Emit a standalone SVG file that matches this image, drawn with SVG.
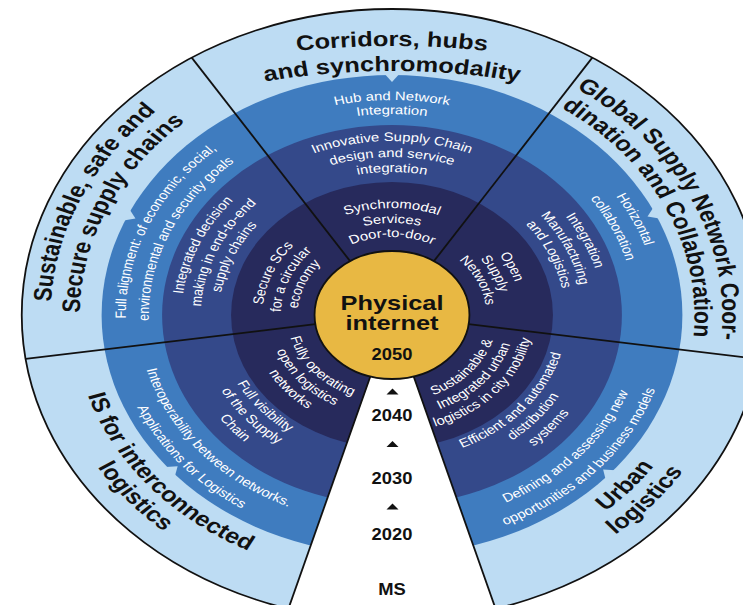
<svg xmlns="http://www.w3.org/2000/svg" width="743" height="605" viewBox="0 0 743 605">
<style>
.ot{font-family:"Liberation Sans",Arial,sans-serif;font-weight:bold;font-size:21px;fill:#111;text-anchor:middle}
.wt{font-family:"Liberation Sans",Arial,sans-serif;font-size:12.3px;fill:#fff;text-anchor:middle}
.yr{font-family:"Liberation Sans",Arial,sans-serif;font-weight:bold;font-size:17px;fill:#111;text-anchor:middle}
.pi{font-family:"Liberation Sans",Arial,sans-serif;font-weight:bold;font-size:21px;fill:#111;text-anchor:middle}
.dv{stroke:#111;stroke-width:1.8;fill:none;vector-effect:non-scaling-stroke}
.nt{fill:#bddcf3}
</style>
<defs>
<path id="c1" d="M-168.23,-246.85 A650,650 0 0 1 168.23,-246.85"/>
<path id="c2" d="M-223.99,-194.34 A530,530 0 0 1 223.99,-194.34"/>
<path id="t282" d="M-277.72,-48.97 A282,282 0 0 1 277.72,-48.97"/>
<path id="t258" d="M-254.08,-44.80 A258,258 0 0 1 254.08,-44.80"/>
<path id="t273" d="M-268.85,-47.41 A273,273 0 0 1 268.85,-47.41"/>
<path id="t250" d="M-246.20,-43.41 A250,250 0 0 1 246.20,-43.41"/>
<path id="t220" d="M-216.66,-38.20 A220,220 0 0 1 216.66,-38.20"/>
<path id="t215" d="M-211.73,-37.33 A215,215 0 0 1 211.73,-37.33"/>
<path id="t201" d="M-197.95,-34.90 A201,201 0 0 1 197.95,-34.90"/>
<path id="t174" d="M-171.36,-30.22 A174,174 0 0 1 171.36,-30.22"/>
<path id="t158" d="M-155.60,-27.44 A158,158 0 0 1 155.60,-27.44"/>
<path id="t143" d="M-140.83,-24.83 A143,143 0 0 1 140.83,-24.83"/>
<path id="t107" d="M-105.37,-18.58 A107,107 0 0 1 105.37,-18.58"/>
<path id="t92" d="M-90.60,-15.98 A92,92 0 0 1 90.60,-15.98"/>
<path id="t78" d="M-76.82,-13.54 A78,78 0 0 1 76.82,-13.54"/>
<path id="b264" d="M-259.99,45.84 A264,264 0 0 0 259.99,45.84"/>
<path id="b287" d="M-282.64,49.84 A287,287 0 0 0 282.64,49.84"/>
<path id="b210" d="M-206.81,36.47 A210,210 0 0 0 206.81,36.47"/>
<path id="b230" d="M-226.51,39.94 A230,230 0 0 0 226.51,39.94"/>
<path id="b145" d="M-142.80,25.18 A145,145 0 0 0 142.80,25.18"/>
<path id="b160" d="M-157.57,27.78 A160,160 0 0 0 157.57,27.78"/>
<path id="b176" d="M-173.33,30.56 A176,176 0 0 0 173.33,30.56"/>
<path id="b87" d="M-85.68,15.11 A87,87 0 0 0 85.68,15.11"/>
<path id="b102" d="M-100.45,17.71 A102,102 0 0 0 100.45,17.71"/>
<path id="b117" d="M-115.22,20.32 A117,117 0 0 0 115.22,20.32"/>
<polygon id="notch" points="-6,-241 6,-241 0,-233"/>
</defs>
<g transform="translate(392,315) scale(1.21,1)">
  <g id="rings">
    <circle r="306" fill="#bddcf3" stroke="#111" stroke-width="1.8" vector-effect="non-scaling-stroke"/>
    <circle r="240" fill="#3f7cbf"/>
    <use href="#notch" class="nt"/>
    <use href="#notch" class="nt" transform="rotate(-65.5)"/>
    <use href="#notch" class="nt" transform="rotate(65)"/>
    <use href="#notch" class="nt" transform="rotate(131.5)"/>
    <use href="#notch" class="nt" transform="rotate(-130.5)"/>
    <circle r="190" fill="#34498a"/>
    <circle r="133" fill="#272a5c"/>
    <polygon id="timeline-wedge" points="17.91,61.44 92.34,316.82 -92.34,316.82 -17.91,61.44" fill="#fff"/>
  </g>
  <g id="connectors">
    <line class="dv" x1="-34.62" y1="-53.83" x2="-165.54" y2="-257.36"/>
    <line class="dv" x1="34.62" y1="-53.83" x2="165.54" y2="-257.36"/>
    <line class="dv" x1="63.34" y1="9.18" x2="302.83" y2="43.91"/>
    <line class="dv" x1="-63.34" y1="9.18" x2="-302.83" y2="43.91"/>
    <line class="dv" x1="17.91" y1="61.44" x2="92.34" y2="316.82"/>
    <line class="dv" x1="-17.91" y1="61.44" x2="-92.34" y2="316.82"/>
  </g>
  <g id="sector-corridors">
    <text class="ot"><textPath href="#c1" startOffset="50%">Corridors, hubs</textPath></text>
    <text class="ot"><textPath href="#c2" startOffset="50%">and synchromodality</textPath></text>
    <text class="wt"><textPath href="#t215" startOffset="50%">Hub and Network</textPath></text>
    <text class="wt"><textPath href="#t201" startOffset="50%">Integration</textPath></text>
    <text class="wt"><textPath href="#t174" startOffset="50%">Innovative Supply Chain</textPath></text>
    <text class="wt"><textPath href="#t158" startOffset="50%">design and service</textPath></text>
    <text class="wt"><textPath href="#t143" startOffset="50%">integration</textPath></text>
    <text class="wt"><textPath href="#t107" startOffset="50%">Synchromodal</textPath></text>
    <text class="wt"><textPath href="#t92" startOffset="50%">Services</textPath></text>
    <text class="wt"><textPath href="#t78" startOffset="50%">Door-to-door</textPath></text>
  </g>
  <g id="sector-sustainable">
    <text class="ot" transform="rotate(-65.5)"><textPath href="#t282" startOffset="50%">Sustainable, safe and</textPath></text>
    <text class="ot" transform="rotate(-65.5)"><textPath href="#t258" startOffset="50%">Secure supply chains</textPath></text>
    <text class="wt" transform="rotate(-66)"><textPath href="#t220" startOffset="50%">Full alignment: of economic, social,</textPath></text>
    <text class="wt" transform="rotate(-66)"><textPath href="#t201" startOffset="50%">environmental and security goals</textPath></text>
    <text class="wt" transform="rotate(-66)"><textPath href="#t174" startOffset="50%">Integrated decision</textPath></text>
    <text class="wt" transform="rotate(-66)"><textPath href="#t158" startOffset="50%">making in end-to-end</textPath></text>
    <text class="wt" transform="rotate(-66)"><textPath href="#t143" startOffset="50%">supply chains</textPath></text>
    <text class="wt" transform="rotate(-67)"><textPath href="#t107" startOffset="50%">Secure SCs</textPath></text>
    <text class="wt" transform="rotate(-67)"><textPath href="#t92" startOffset="50%">for a circular</textPath></text>
    <text class="wt" transform="rotate(-67)"><textPath href="#t78" startOffset="50%">economy</textPath></text>
  </g>
  <g id="sector-global">
    <text class="ot" transform="rotate(64.5)"><textPath href="#t273" startOffset="50%">Global Supply Network Coor-</textPath></text>
    <text class="ot" transform="rotate(64.5)"><textPath href="#t250" startOffset="50%">dination and Collaboration</textPath></text>
    <text class="wt" transform="rotate(64.5)"><textPath href="#t220" startOffset="50%">Horizontal</textPath></text>
    <text class="wt" transform="rotate(64.5)"><textPath href="#t201" startOffset="50%">collaboration</textPath></text>
    <text class="wt" transform="rotate(65)"><textPath href="#t174" startOffset="50%">Integration</textPath></text>
    <text class="wt" transform="rotate(65)"><textPath href="#t158" startOffset="50%">Manufacturing</textPath></text>
    <text class="wt" transform="rotate(65)"><textPath href="#t143" startOffset="50%">and Logistics</textPath></text>
    <text class="wt" transform="rotate(64)"><textPath href="#t107" startOffset="50%">Open</textPath></text>
    <text class="wt" transform="rotate(64)"><textPath href="#t92" startOffset="50%">Supply</textPath></text>
    <text class="wt" transform="rotate(64)"><textPath href="#t78" startOffset="50%">Networks</textPath></text>
  </g>
  <g id="sector-urban">
    <text class="ot" transform="rotate(-48.5)"><textPath href="#b264" startOffset="50%">Urban</textPath></text>
    <text class="ot" transform="rotate(-48.5)"><textPath href="#b287" startOffset="50%">logistics</textPath></text>
    <text class="wt" transform="rotate(-47.5)"><textPath href="#b210" startOffset="50%">Defining and assessing new</textPath></text>
    <text class="wt" transform="rotate(-47.5)"><textPath href="#b230" startOffset="50%">opportunities and business models</textPath></text>
    <text class="wt" transform="rotate(-49)"><textPath href="#b145" startOffset="50%">Efficient and automated</textPath></text>
    <text class="wt" transform="rotate(-49)"><textPath href="#b160" startOffset="50%">distribution</textPath></text>
    <text class="wt" transform="rotate(-49)"><textPath href="#b176" startOffset="50%">systems</textPath></text>
    <text class="wt" transform="rotate(-48)"><textPath href="#b87" startOffset="50%">Sustainable &amp;</textPath></text>
    <text class="wt" transform="rotate(-48)"><textPath href="#b102" startOffset="50%">Integrated urban</textPath></text>
    <text class="wt" transform="rotate(-48)"><textPath href="#b117" startOffset="50%">logistics in city mobility</textPath></text>
  </g>
  <g id="sector-is">
    <text class="ot" transform="rotate(49.5)"><textPath href="#b264" startOffset="50%">IS for interconnected</textPath></text>
    <text class="ot" transform="rotate(49.5)"><textPath href="#b287" startOffset="50%">logistics</textPath></text>
    <text class="wt" transform="rotate(49.5)"><textPath href="#b210" startOffset="50%">Interoperability between networks.</textPath></text>
    <text class="wt" transform="rotate(49.5)"><textPath href="#b230" startOffset="50%">Applications for Logistics</textPath></text>
    <text class="wt" transform="rotate(49)"><textPath href="#b145" startOffset="50%">Full visibility</textPath></text>
    <text class="wt" transform="rotate(49)"><textPath href="#b160" startOffset="50%">of the Supply</textPath></text>
    <text class="wt" transform="rotate(49)"><textPath href="#b176" startOffset="50%">Chain</textPath></text>
    <text class="wt" transform="rotate(48.5)"><textPath href="#b87" startOffset="50%">Fully operating</textPath></text>
    <text class="wt" transform="rotate(48.5)"><textPath href="#b102" startOffset="50%">open logistics</textPath></text>
    <text class="wt" transform="rotate(48.5)"><textPath href="#b117" startOffset="50%">networks</textPath></text>
  </g>
  <g id="hub-physical-internet">
    <circle r="64" fill="#e8b843" stroke="#111" stroke-width="1.8" vector-effect="non-scaling-stroke"/>
    <text class="pi" x="0" y="-5">Physical</text>
    <text class="pi" x="0" y="14.5">internet</text>
  </g>
</g>
<g id="timeline">
  <polygon points="386.5,394.5 398.5,394.5 392.5,388.5" fill="#111"/>
  <polygon points="386.5,447 398.5,447 392.5,441" fill="#111"/>
  <polygon points="386.5,509.5 398.5,509.5 392.5,503.5" fill="#111"/>
  <g transform="translate(392,0) scale(1.08,1)">
    <text class="yr" x="0" y="360">2050</text>
    <text class="yr" x="0" y="421">2040</text>
    <text class="yr" x="0" y="484">2030</text>
    <text class="yr" x="0" y="540">2020</text>
    <text class="yr" x="0" y="595">MS</text>
  </g>
</g>
</svg>
